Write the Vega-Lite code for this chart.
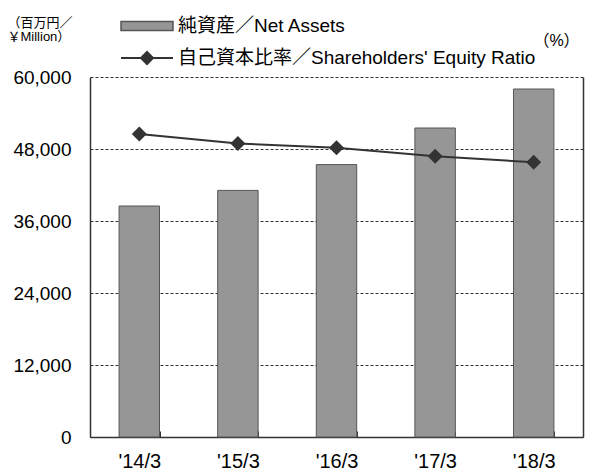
{
  "$schema": "https://vega.github.io/schema/vega-lite/v6.json",
  "autosize": "none",
  "padding": {"left": 90, "top": 77, "right": 16, "bottom": 34},
  "width": 493,
  "height": 360,
  "data": {
    "values": [
      {"period": "'14/3", "net_assets": 38500, "equity_ratio": 50.5},
      {"period": "'15/3", "net_assets": 41100, "equity_ratio": 48.9},
      {"period": "'16/3", "net_assets": 45400, "equity_ratio": 48.2},
      {"period": "'17/3", "net_assets": 51500, "equity_ratio": 46.8},
      {"period": "'18/3", "net_assets": 58000, "equity_ratio": 45.8}
    ]
  },
  "encoding": {
    "x": {
      "field": "period",
      "type": "nominal",
      "sort": null,
      "scale": {"paddingInner": 0.59, "paddingOuter": 0.295},
      "axis": {
        "title": null,
        "labelAngle": 0,
        "labelFontSize": 20,
        "labelPadding": 20,
        "tickBand": "extent",
        "tickSize": -6,
        "tickColor": "#333333",
        "tickWidth": 1,
        "domainColor": "#333333",
        "domainWidth": 1.5,
        "grid": false
      }
    }
  },
  "layer": [
    {
      "mark": {"type": "bar", "stroke": "#555555", "strokeWidth": 1},
      "encoding": {
        "y": {
          "field": "net_assets",
          "type": "quantitative",
          "scale": {"domain": [0, 60000], "nice": false},
          "axis": {
            "values": [0, 12000, 24000, 36000, 48000, 60000],
            "format": ",.0f",
            "ticks": false,
            "labelFontSize": 19,
            "labelPadding": 19,
            "domainColor": "#333333",
            "domainWidth": 1.5,
            "grid": true,
            "gridColor": "#333333",
            "gridDash": [3, 2],
            "gridWidth": 1,
            "title": ["（百万円／", "￥Million）"],
            "titleAngle": 0,
            "titleAlign": "left",
            "titleBaseline": "top",
            "titleX": -83,
            "titleY": -61,
            "titleFontSize": 13,
            "titleFontWeight": "normal",
            "titleLineHeight": 14.5
          }
        },
        "fill": {
          "datum": "純資産／Net Assets",
          "scale": {"domain": ["純資産／Net Assets"], "range": ["#969696"]},
          "legend": {
            "title": null,
            "orient": "none",
            "legendX": 46,
            "legendY": -62,
            "padding": 0,
            "symbolType": "M-2.6,-0.45H2.6V0.45H-2.6Z",
            "symbolSize": 400,
            "labelOffset": 20,
            "labelFontSize": 19,
            "labelColor": "#000000",
            "labelLimit": 500,
            "encode": {
              "symbols": {
                "update": {
                  "fill": {"value": "#969696"},
                  "stroke": {"value": "#555555"},
                  "strokeWidth": {"value": 1},
                  "opacity": {"value": 1},
                  "fillOpacity": {"value": 1}
                }
              }
            }
          }
        }
      }
    },
    {
      "mark": {
        "type": "line",
        "strokeWidth": 2,
        "point": {"filled": true, "shape": "diamond", "size": 225, "fill": "#333333", "stroke": "#333333", "strokeWidth": 0}
      },
      "encoding": {
        "y": {
          "field": "equity_ratio",
          "type": "quantitative",
          "scale": {"domain": [0, 60], "nice": false},
          "axis": {
            "orient": "right",
            "labels": false,
            "ticks": false,
            "grid": false,
            "domainColor": "#333333",
            "domainWidth": 1.5,
            "title": "（%）",
            "titleAngle": 0,
            "titleAlign": "center",
            "titleBaseline": "middle",
            "titleX": -27,
            "titleY": -37,
            "titleFontSize": 16,
            "titleFontWeight": "normal"
          }
        },
        "stroke": {
          "datum": "自己資本比率／Shareholders' Equity Ratio",
          "scale": {"domain": ["自己資本比率／Shareholders' Equity Ratio"], "range": ["#333333"]},
          "legend": {
            "title": null,
            "orient": "none",
            "legendX": 46,
            "legendY": -30,
            "padding": 0,
            "symbolType": "M-2.6,0H2.6M0,-0.6L0.6,0L0,0.6L-0.6,0Z",
            "symbolSize": 400,
            "labelOffset": 20,
            "labelFontSize": 19,
            "labelColor": "#000000",
            "labelLimit": 500,
            "encode": {
              "symbols": {
                "update": {
                  "fill": {"value": "#333333"},
                  "stroke": {"value": "#333333"},
                  "strokeWidth": {"value": 2},
                  "opacity": {"value": 1},
                  "fillOpacity": {"value": 1},
                  "strokeOpacity": {"value": 1}
                }
              }
            }
          }
        }
      }
    }
  ],
  "resolve": {"scale": {"y": "independent"}},
  "config": {
    "font": "Liberation Sans, Noto Sans CJK JP, sans-serif",
    "view": {"stroke": null},
    "axis": {"labelColor": "#000000", "titleColor": "#000000", "labelFont": "Liberation Sans, Noto Sans CJK JP, sans-serif", "titleFont": "Liberation Sans, Noto Sans CJK JP, sans-serif"},
    "legend": {"labelFont": "Liberation Sans, Noto Sans CJK JP, sans-serif"}
  }
}
